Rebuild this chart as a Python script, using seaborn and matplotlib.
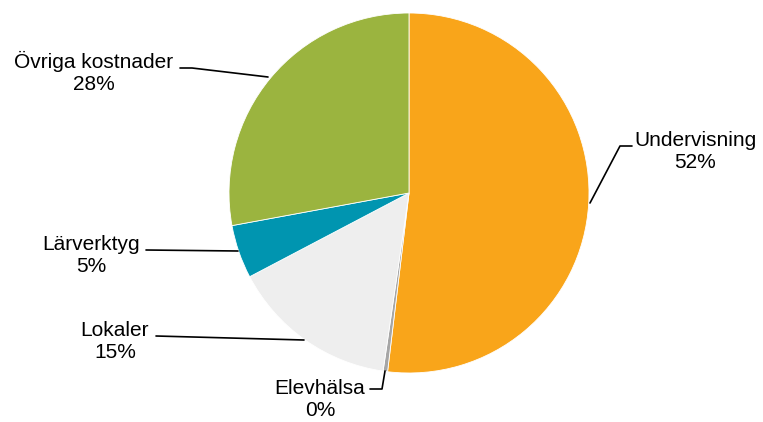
import matplotlib
matplotlib.use("Agg")
import matplotlib.pyplot as plt
import seaborn as sns

# Data
categories = ["Undervisning", "Elevhälsa", "Lokaler", "Lärverktyg", "Övriga kostnader"]
shares = [51.9, 0.4, 15.0, 4.8, 27.9]
pct_labels = ["52%", "0%", "15%", "5%", "28%"]
colors = ["#F9A51A", "#A6A6A6", "#EEEEEE", "#0095B0", "#9BB43F"]

sns.set_theme(style="white")
plt.rcParams['font.family'] = ['Liberation Sans', 'DejaVu Sans']

W, H = 763, 422
fig = plt.figure(figsize=(W / 100, H / 100), dpi=100)
ax = fig.add_axes([0, 0, 1, 1])

cx, cy, r = 409, H - 193, 180
ax.pie(shares, colors=colors, startangle=90, counterclock=False,
       center=(cx, cy), radius=r, frame=True,
       wedgeprops=dict(edgecolor="white", linewidth=0.6))
ax.set_xlim(0, W)
ax.set_ylim(0, H)
ax.set_aspect("equal")
ax.axis("off")

# label text positions (pixel coords, top-left origin) and leader lines
label_pos = {
    "Undervisning": (695, 151),
    "Elevhälsa": (320, 399),
    "Lokaler": (115, 342),
    "Lärverktyg": (91, 256),
    "Övriga kostnader": (94, 72),
}
leaders = {
    "Undervisning": [(632, 146), (620, 146), (590, 203)],
    "Elevhälsa": [(370, 389), (382, 389), (385, 371)],
    "Lokaler": [(156, 336), (304, 340)],
    "Lärverktyg": [(146, 250), (238, 251)],
    "Övriga kostnader": [(180, 68), (192, 68), (268, 77)],
}

for cat, pct in zip(categories, pct_labels):
    x, y = label_pos[cat]
    ax.text(x, H - y, f"{cat}\n{pct}", ha="center", va="center",
            fontsize=15, color="black", linespacing=1.2)
    pts = leaders[cat]
    ax.plot([p[0] for p in pts], [H - p[1] for p in pts], color="black", lw=1.2)

fig.savefig("out.png", dpi=100, facecolor="white")
